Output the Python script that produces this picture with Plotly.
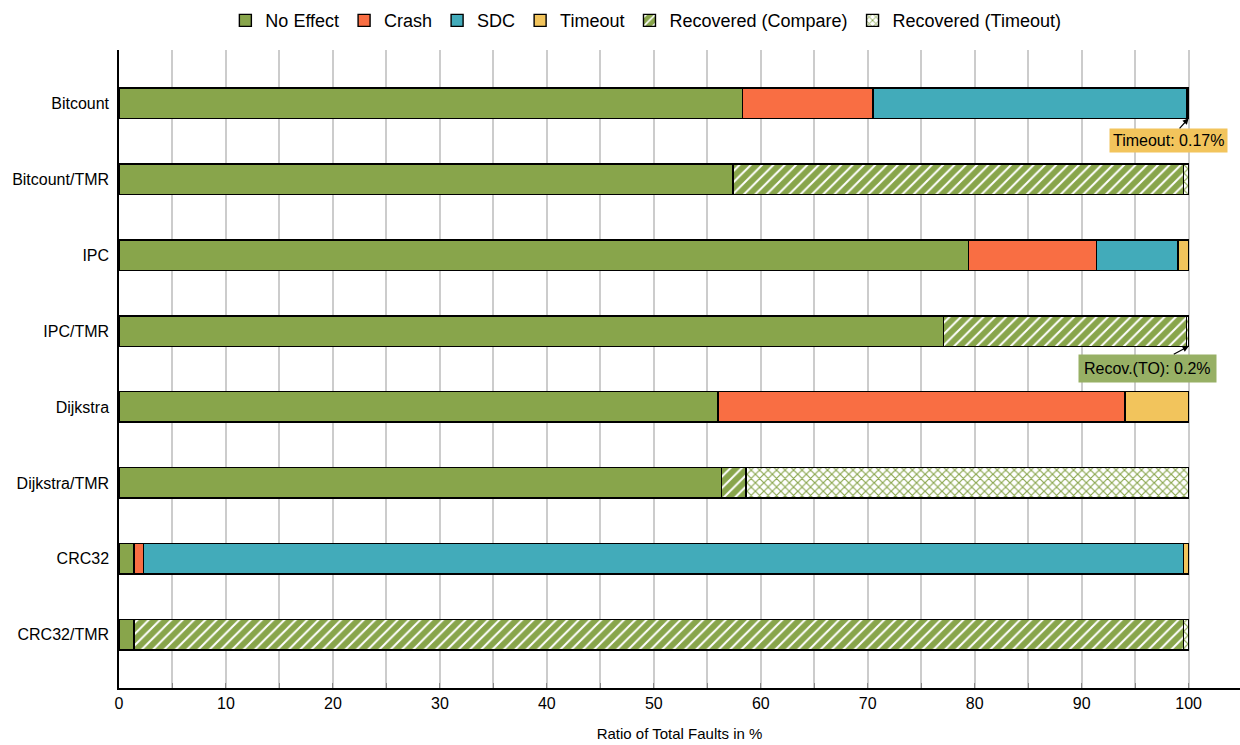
import plotly.graph_objects as go

# Benchmarks (top to bottom)
benchmarks = ["Bitcount", "Bitcount/TMR", "IPC", "IPC/TMR",
              "Dijkstra", "Dijkstra/TMR", "CRC32", "CRC32/TMR"]

# Share of injected faults per outcome, in percent
no_effect     = [58.3, 57.4, 79.4, 77.1, 56.0, 56.3, 1.4, 1.4]
crash         = [12.2, 0.0, 12.0, 0.0, 38.0, 0.0, 0.9, 0.0]
sdc           = [29.33, 0.0, 7.6, 0.0, 0.1, 0.0, 97.2, 0.0]
timeout       = [0.17, 0.0, 1.0, 0.0, 5.9, 0.0, 0.5, 0.0]
rec_compare   = [0.0, 42.1, 0.0, 22.7, 0.0, 2.3, 0.0, 98.1]
rec_timeout   = [0.0, 0.5, 0.0, 0.2, 0.0, 41.4, 0.0, 0.5]

GREEN = "#88a54b"
RED = "#f96e43"
TEAL = "#42abba"
YELLOW = "#f2c45c"
FONT = "Liberation Sans, Arial, sans-serif"

outline = dict(color="black", width=1.4)

series = [
    ("No Effect", no_effect, dict(color=GREEN, line=outline)),
    ("Crash", crash, dict(color=RED, line=outline)),
    ("SDC", sdc, dict(color=TEAL, line=outline)),
    ("Timeout", timeout, dict(color=YELLOW, line=outline)),
    ("Recovered (Compare)", rec_compare,
     dict(color=GREEN, line=outline,
          pattern=dict(shape="/", fgcolor="white", bgcolor=GREEN,
                       fillmode="replace", size=8, solidity=0.25))),
    ("Recovered (Timeout)", rec_timeout,
     dict(color="white", line=outline,
          pattern=dict(shape="x", fgcolor=GREEN, bgcolor="white",
                       fillmode="replace", size=6, solidity=0.35))),
]

fig = go.Figure()
for name, vals, marker in series:
    fig.add_trace(go.Bar(
        name=name, y=benchmarks, x=vals, orientation="h",
        marker=marker, width=0.4,
    ))

fig.update_layout(
    barmode="stack",
    width=1240, height=745,
    margin=dict(l=119, r=0, t=50, b=57),
    plot_bgcolor="white", paper_bgcolor="white",
    font=dict(family=FONT, size=16, color="black"),
    legend=dict(orientation="h", x=0.47, xanchor="center", y=1.046, yanchor="middle",
                font=dict(size=18), itemwidth=30, traceorder="normal",
                itemclick=False, tracegroupgap=0),
    xaxis=dict(
        range=[0, 104.8], dtick=10, tick0=0,
        showgrid=True, gridcolor="#cccccc", gridwidth=1.5,
        minor=dict(dtick=5, showgrid=True, gridcolor="#cccccc", gridwidth=1.5,
                   ticks="inside", ticklen=5, tickcolor="#888888"),
        ticks="inside", ticklen=5, tickcolor="#888888",
        showline=True, linecolor="black", linewidth=1.5,
        zeroline=False, tickfont=dict(size=16),
        title=dict(text="Ratio of Total Faults in %", font=dict(size=15), standoff=18),
    ),
    yaxis=dict(
        type="category", categoryorder="array", categoryarray=benchmarks,
        range=[7.7, -0.7], tickfont=dict(size=16),
        showline=True, linecolor="black", linewidth=1.5,
        showgrid=False, ticks="", ticklabelstandoff=5,
    ),
    bargap=0.6,
)

fig.add_annotation(
    x=100, y=0.2, xref="x", yref="y",
    text="Timeout: 0.17%", showarrow=True, arrowhead=2, arrowsize=1, arrowwidth=1.2,
    arrowcolor="black", ax=-20, ay=22, bgcolor=YELLOW,
    font=dict(size=16, color="black"), borderpad=3,
)
fig.add_annotation(
    x=100, y=3.2, xref="x", yref="y",
    text="Recov.(TO): 0.2%", showarrow=True, arrowhead=2, arrowsize=1, arrowwidth=1.2,
    arrowcolor="black", ax=-41, ay=22, bgcolor="#97b065",
    font=dict(size=16, color="black"), borderpad=5,
)

fig.write_html("out.html")
